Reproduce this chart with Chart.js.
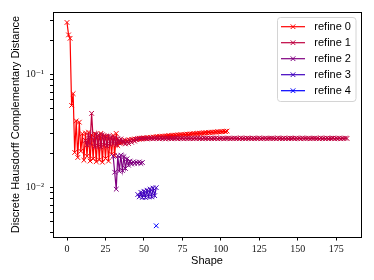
<!DOCTYPE html>
<html>
<head>
<meta charset="utf-8">
<script src="https://cdn.jsdelivr.net/npm/chart.js@4.4.1/dist/chart.umd.min.js"></script>
<style>
html, body { margin: 0; padding: 0; background: #fff; }
#wrap { width: 374px; height: 280px; }
</style>
</head>
<body>
<div id="wrap"><canvas id="chart" width="374" height="280"></canvas></div>
<script>
// DATA
const seriesNames = ['refine 0', 'refine 1', 'refine 2', 'refine 3', 'refine 4'];
const seriesColors = ['#ff0000', '#bf0040', '#800080', '#4000bf', '#0000ff'];
// first shape index of each series (values follow shape by shape)
const seriesStarts = [0, 12, 30, 46, 58];

const refine0 = [
  0.290, 0.225, 0.210, 0.0535, 0.068, 0.0205, 0.039, 0.0185, 0.038, 0.021,
  0.0300, 0.0175, 0.0305, 0.0190, 0.0310, 0.0172, 0.0295, 0.0180, 0.0300, 0.0170,
  0.0290, 0.0176, 0.0302, 0.0168, 0.0288, 0.0181, 0.0285, 0.0172, 0.0278, 0.0198,
  0.0290, 0.0192, 0.0302, 0.0236, 0.0262, 0.0248, 0.0258, 0.0252, 0.0262, 0.0256,
  0.0265, 0.0260, 0.0268, 0.0263, 0.0270, 0.0266, 0.0272, 0.0269, 0.0274, 0.0271,
  0.0276, 0.0273, 0.0278, 0.0275, 0.0279, 0.0277, 0.0281, 0.0279, 0.0283, 0.0281,
  0.0284, 0.0283, 0.0286, 0.0284, 0.0287, 0.0286, 0.0289, 0.0287, 0.0290, 0.0289,
  0.0292, 0.0290, 0.0293, 0.0292, 0.0295, 0.0293, 0.0296, 0.0295, 0.0298, 0.0296,
  0.0299, 0.0298, 0.0301, 0.0299, 0.0302, 0.0301, 0.0304, 0.0302, 0.0305, 0.0304,
  0.0307, 0.0305, 0.0308, 0.0307, 0.0310, 0.0308, 0.0311, 0.0310, 0.0313, 0.0311,
  0.0314, 0.0313, 0.0316, 0.0314, 0.0317
];
const refine1 = [
  0.0262, 0.0238, 0.0292, 0.0246, 0.0455, 0.0268, 0.0232, 0.0298, 0.0236, 0.0290,
  0.0230, 0.0294, 0.0240, 0.0284, 0.0234, 0.0286, 0.0242, 0.0280, 0.0246, 0.0276,
  0.0240, 0.0272, 0.0248, 0.0270, 0.0250, 0.0262, 0.0244, 0.0258, 0.0246, 0.0262,
  0.0252, 0.0266, 0.0258, 0.0268,
  0.0269, 0.0274, 0.0270, 0.0275, 0.0271, 0.0274, 0.0270, 0.0275, 0.0272, 0.0274,
  0.0271, 0.0275, 0.0272, 0.0274, 0.0271, 0.0276, 0.0272, 0.0274, 0.0270, 0.0275,
  0.0272, 0.0274, 0.0271, 0.0275, 0.0273, 0.0274, 0.0271, 0.0276, 0.0272, 0.0274,
  0.0271, 0.0275, 0.0272, 0.0274, 0.0272, 0.0275, 0.0271, 0.0274, 0.0272, 0.0276,
  0.0272, 0.0274, 0.0271, 0.0275, 0.0273, 0.0274, 0.0271, 0.0275, 0.0272, 0.0274,
  0.0272, 0.0276, 0.0271, 0.0274, 0.0272, 0.0275, 0.0271, 0.0274, 0.0273, 0.0275,
  0.0271, 0.0274, 0.0272, 0.0275, 0.0272, 0.0274, 0.0271, 0.0276, 0.0272, 0.0274,
  0.0271, 0.0275, 0.0273, 0.0274, 0.0271, 0.0275, 0.0272, 0.0274, 0.0272, 0.0276,
  0.0271, 0.0274, 0.0272, 0.0275, 0.0271, 0.0274, 0.0273, 0.0275, 0.0272, 0.0274,
  0.0271, 0.0276, 0.0272, 0.0274, 0.0272, 0.0275, 0.0271, 0.0274, 0.0272, 0.0275,
  0.0273, 0.0274, 0.0271, 0.0275, 0.0272, 0.0274, 0.0271, 0.0276, 0.0272, 0.0274,
  0.0272, 0.0275, 0.0271, 0.0274, 0.0273, 0.0275, 0.0272, 0.0274, 0.0271, 0.0276,
  0.0272, 0.0274, 0.0271, 0.0275, 0.0272, 0.0274, 0.0273, 0.0275, 0.0271, 0.0274,
  0.0272, 0.0275, 0.0271, 0.0274, 0.0272, 0.0275, 0.0273
];
const refine2 = [
  0.0190, 0.0137, 0.0097, 0.0192, 0.0140, 0.0194, 0.0142, 0.0188, 0.0148, 0.0180,
  0.0158, 0.0172, 0.0162, 0.0169, 0.0164, 0.0168, 0.0165, 0.0169, 0.0164, 0.0167
];
const refine3 = [
  0.0087, 0.0083, 0.0091, 0.0082, 0.0093, 0.0082, 0.0095, 0.0083, 0.0097, 0.0083,
  0.0099, 0.0085, 0.0100
];
const refine4 = [0.0046];
const seriesValues = [refine0, refine1, refine2, refine3, refine4];

const xTicks = [0, 25, 50, 75, 100, 125, 150, 175];
const yTicks = [0.004, 0.005, 0.006, 0.007, 0.008, 0.009,
  0.01, 0.02, 0.03, 0.04, 0.05, 0.06, 0.07, 0.08, 0.09, 0.1, 0.2, 0.3];
const yTickLabels = { 0.01: '10\u207B\u00B2', 0.1: '10\u207B\u00B9' };
const xMin = -9.1, xMax = 191.1;
const yMin = 0.00366, yMax = 0.359;

const sansFont = '"Liberation Sans", Arial, sans-serif';
const serifFont = '"Liberation Serif", "DejaVu Serif", serif';

// frame on all four sides + matplotlib style legend box
const framePlugin = {
  id: 'frame',
  afterDraw(chart) {
    const ctx = chart.ctx;
    const a = chart.chartArea;
    ctx.save();
    ctx.strokeStyle = '#000';
    ctx.lineWidth = 1;
    ctx.strokeRect(Math.round(a.left) + 0.5, Math.round(a.top) + 0.5,
      Math.round(a.right - a.left), Math.round(a.bottom - a.top));

    ctx.beginPath();
    ctx.roundRect(277.5, 17.5, 78.5, 84, 3);
    ctx.fillStyle = 'rgba(255,255,255,0.8)';
    ctx.fill();
    ctx.strokeStyle = '#d4d4d4';
    ctx.stroke();

    ctx.font = '11px ' + sansFont;
    ctx.textBaseline = 'middle';
    chart.data.datasets.forEach((ds, i) => {
      const y = 26.7 + 16 * i;
      ctx.strokeStyle = ds.borderColor;
      ctx.lineWidth = 1.2;
      ctx.beginPath();
      ctx.moveTo(281, y);
      ctx.lineTo(305, y);
      ctx.stroke();
      ctx.lineWidth = 1;
      Chart.helpers.drawPoint(ctx, { pointStyle: 'crossRot', radius: 3.3, borderWidth: 1, rotation: 0 }, 293, y);
      ctx.fillStyle = '#000';
      ctx.fillText(ds.label, 314.3, y);
    });
    ctx.restore();
  }
};

new Chart(document.getElementById('chart').getContext('2d'), {
  type: 'line',
  data: {
    datasets: seriesNames.map((name, i) => ({
      label: name,
      data: seriesValues[i].map((v, j) => ({ x: seriesStarts[i] + j, y: v })),
      borderColor: seriesColors[i],
      backgroundColor: seriesColors[i],
      borderWidth: 1.2,
      pointStyle: 'crossRot',
      pointRadius: 3.3,
      pointBorderWidth: 1,
      pointBorderColor: seriesColors[i],
      tension: 0,
      fill: false,
      order: seriesNames.length - i
    }))
  },
  options: {
    responsive: false,
    animation: false,
    devicePixelRatio: 1,
    layout: { padding: { top: 12, right: 13, left: 0, bottom: 0 } },
    plugins: { legend: { display: false }, tooltip: { enabled: false } },
    scales: {
      x: {
        type: 'linear',
        min: xMin,
        max: xMax,
        afterBuildTicks: s => { s.ticks = xTicks.map(v => ({ value: v })); },
        afterFit: s => { s.height = 43; },
        grid: { drawOnChartArea: false, drawTicks: true, tickLength: 3.5, color: '#000', lineWidth: 1 },
        border: { color: '#000', width: 1 },
        ticks: { autoSkip: false, maxRotation: 0, padding: 2.5, color: '#111',
          font: { family: serifFont, size: 10 }, callback: v => String(v) },
        title: { display: true, text: 'Shape', color: '#000',
          font: { family: sansFont, size: 11 }, padding: { top: 0, bottom: 12 } }
      },
      y: {
        type: 'logarithmic',
        min: yMin,
        max: yMax,
        afterBuildTicks: s => { s.ticks = yTicks.map(v => ({ value: v })); },
        afterFit: s => { s.width = 53; },
        grid: { drawOnChartArea: false, drawTicks: true, tickLength: 3, color: '#000', lineWidth: 1 },
        border: { color: '#000', width: 1 },
        ticks: { autoSkip: false, padding: 6, color: '#111',
          font: { family: serifFont, size: 10 },
          callback: v => yTickLabels[v] || '' },
        title: { display: true, text: 'Discrete Hausdorff Complementary Distance', color: '#000',
          font: { family: sansFont, size: 11 }, padding: { top: 9, bottom: 0 } }
      }
    }
  },
  plugins: [framePlugin]
});
</script>
</body>
</html>
